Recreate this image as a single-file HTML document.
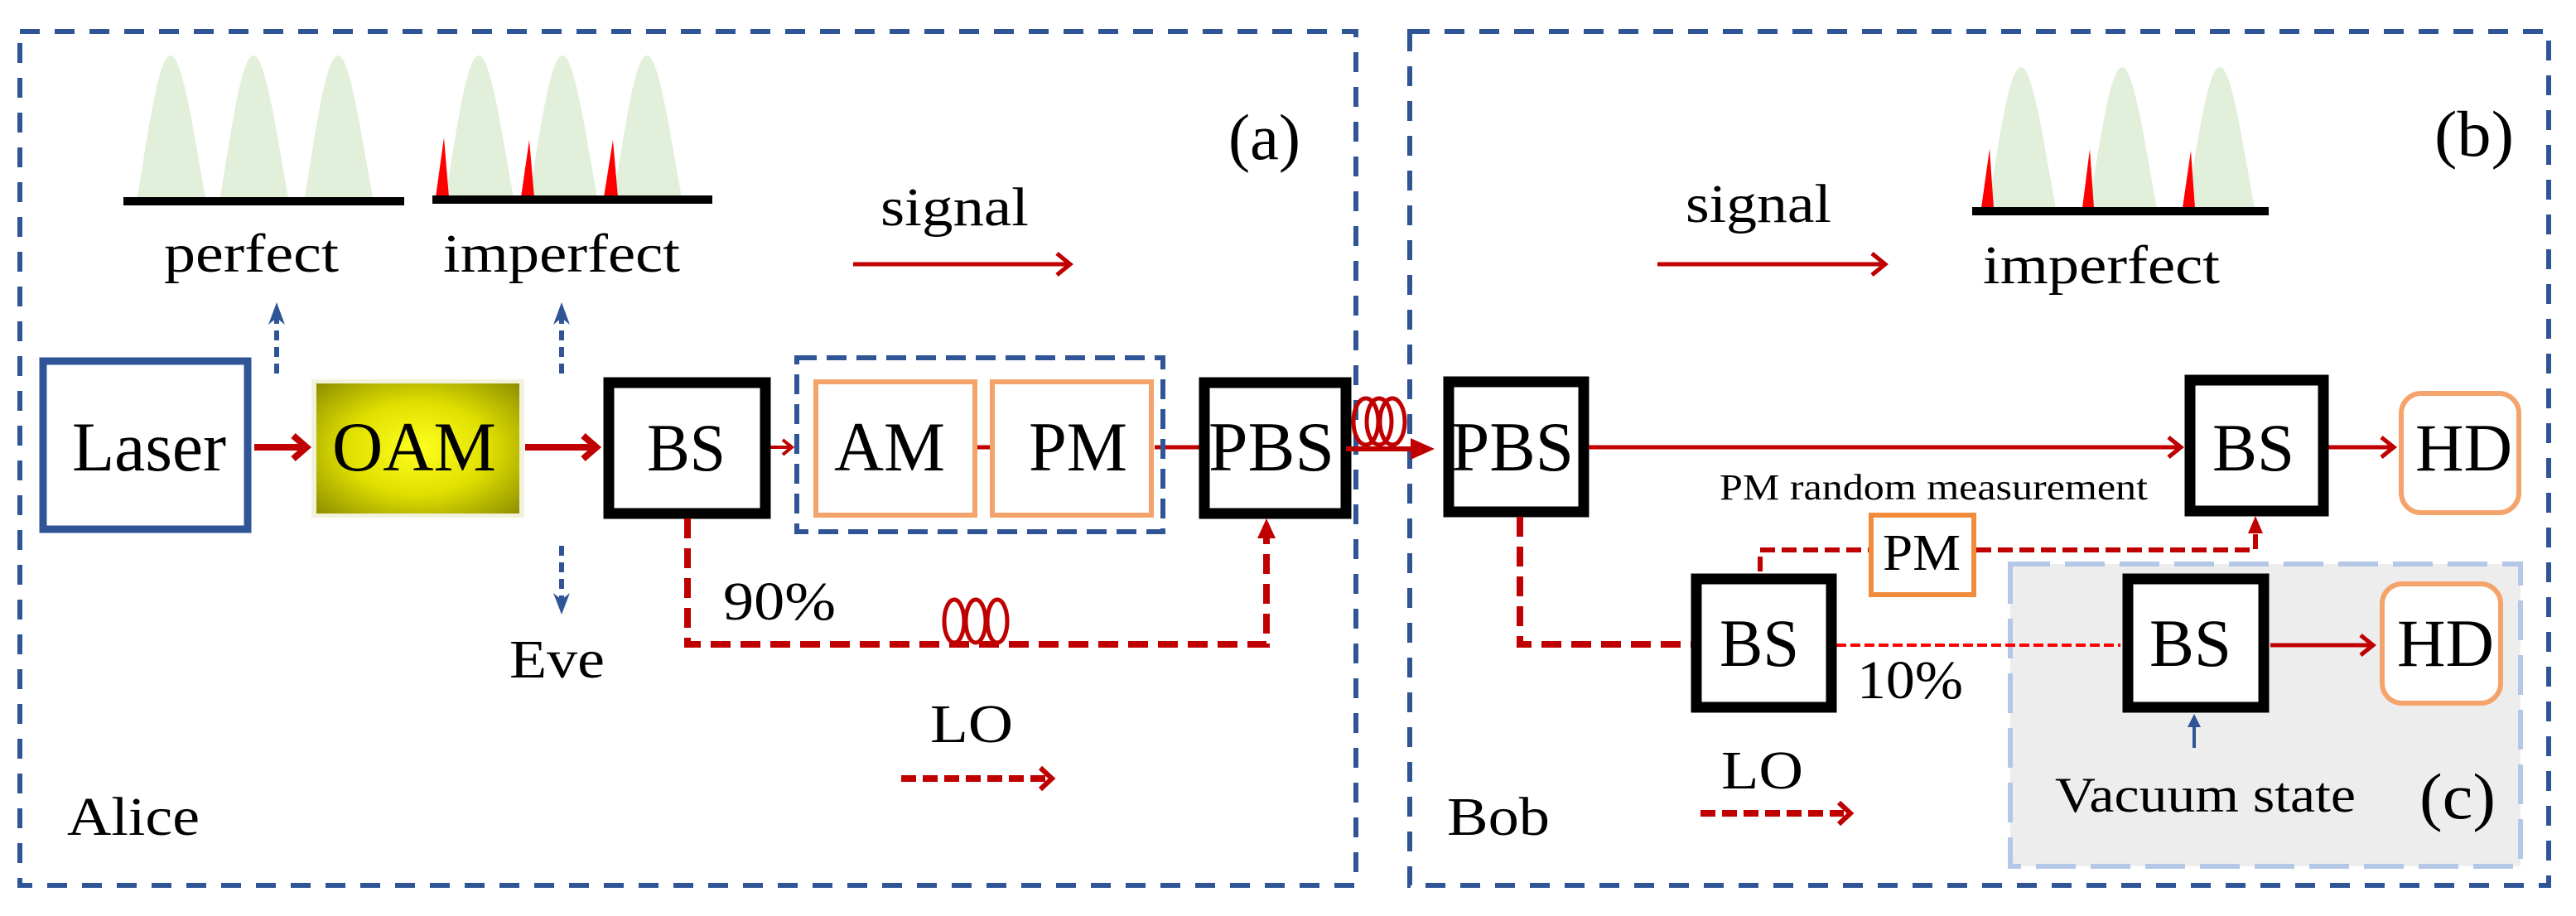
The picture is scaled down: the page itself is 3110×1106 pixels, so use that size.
<!DOCTYPE html>
<html><head><meta charset="utf-8"><style>
html,body{margin:0;padding:0;background:#fff}
svg{display:block}
svg text{font-family:"Liberation Serif","Times New Roman",Times,serif;fill:#000}
</style></head><body>
<svg width="3110" height="1106" viewBox="0 0 3110 1106" xmlns="http://www.w3.org/2000/svg" font-family="Liberation Serif, Times New Roman, serif">
<rect x="24" y="38" width="1613" height="1031" fill="none" stroke="#2f5597" stroke-width="6" stroke-dasharray="24 18"/>
<rect x="1702" y="38" width="1375" height="1031" fill="none" stroke="#2f5597" stroke-width="6" stroke-dasharray="24 18"/>
<rect x="2427" y="681" width="616" height="365" fill="#ededed" stroke="#b4c7e7" stroke-width="6" stroke-dasharray="48 18"/>

<g fill="#e2efda">
<path d="M166,238 C180,150 192,67 206,67 C220,67 232,150 248,238 Z"/>
<path d="M266,238 C280,150 292,67 306,67 C320,67 332,150 348,238 Z"/>
<path d="M368,238 C382,150 394,67 408,67 C422,67 434,150 450,238 Z"/>
<path d="M538,238 C552,150 564,67 578,67 C592,67 604,150 620,238 Z"/>
<path d="M639,238 C653,150 665,67 679,67 C693,67 705,150 721,238 Z"/>
<path d="M741,238 C755,150 767,67 781,67 C795,67 807,150 823,238 Z"/>
<path d="M2400,251 C2414,165 2426,81 2440,81 C2454,81 2466,165 2482,251 Z"/>
<path d="M2522,251 C2536,165 2548,81 2562,81 C2576,81 2588,165 2604,251 Z"/>
<path d="M2640,251 C2654,165 2666,81 2680,81 C2694,81 2706,165 2722,251 Z"/>
</g>
<g fill="#ff0000">
<path d="M526,238 L536,166 L542,238 Z"/>
<path d="M629,238 L639,169 L645,238 Z"/>
<path d="M729,238 L740,169 L746,238 Z"/>
<path d="M2392,251 L2402,180 L2407,251 Z"/>
<path d="M2514,251 L2523,180 L2528,251 Z"/>
<path d="M2635,251 L2645,182 L2650,251 Z"/>
</g>
<rect x="149" y="238" width="339" height="10" fill="#000"/>
<rect x="522" y="236" width="338" height="10" fill="#000"/>
<rect x="2381" y="250" width="358" height="10" fill="#000"/>

<text x="198" y="328" font-size="66" textLength="211" lengthAdjust="spacingAndGlyphs">perfect</text>
<text x="535" y="328" font-size="66" textLength="286" lengthAdjust="spacingAndGlyphs">imperfect</text>
<text x="1063" y="272" font-size="66" textLength="179" lengthAdjust="spacingAndGlyphs">signal</text>
<text x="1483" y="192" font-size="78" textLength="87" lengthAdjust="spacingAndGlyphs">(a)</text>
<text x="2035" y="268" font-size="66" textLength="176" lengthAdjust="spacingAndGlyphs">signal</text>
<text x="2394" y="342" font-size="66" textLength="286" lengthAdjust="spacingAndGlyphs">imperfect</text>
<text x="2939" y="188" font-size="78" textLength="96" lengthAdjust="spacingAndGlyphs">(b)</text>

<g stroke="#c00000" stroke-width="5" fill="none">
<line x1="1030" y1="319" x2="1292" y2="319"/><polyline points="1276,306 1292,319 1276,332"/>
<line x1="2001" y1="319" x2="2276" y2="319"/><polyline points="2260,306 2276,319 2260,332"/>
</g>

<g stroke="#2f5597" stroke-width="6" fill="none" stroke-dasharray="12 8">
<line x1="334" y1="451" x2="334" y2="380"/>
<line x1="678" y1="451" x2="678" y2="380"/>
<line x1="678" y1="659" x2="678" y2="728"/>
</g>
<g fill="#2f5597">
<path d="M324,392 L334,365 L344,392 L334,384 Z"/>
<path d="M668,392 L678,365 L688,392 L678,384 Z"/>
<path d="M668,716 L678,742 L688,716 L678,724 Z"/>
</g>

<rect x="52" y="436" width="247" height="203" fill="#fff" stroke="#2f5597" stroke-width="9"/>
<text x="87" y="568" font-size="85" textLength="186" lengthAdjust="spacingAndGlyphs">Laser</text>

<defs>
<radialGradient id="oam" cx="50%" cy="50%" r="70%">
<stop offset="0" stop-color="#ffff20"/><stop offset="0.5" stop-color="#e0e000"/><stop offset="1" stop-color="#8f8f00"/>
</radialGradient>
</defs>
<rect x="376" y="458" width="257" height="167" fill="#f1f1dc"/>
<rect x="382" y="463" width="245" height="157" fill="url(#oam)"/>
<text x="401" y="568" font-size="85" textLength="198" lengthAdjust="spacingAndGlyphs">OAM</text>

<g stroke="#c00000" fill="none">
<line x1="307" y1="540" x2="368" y2="540" stroke-width="8"/><polyline points="354,526 370,540 354,554" stroke-width="8"/>
<line x1="634" y1="540" x2="718" y2="540" stroke-width="8"/><polyline points="704,526 720,540 704,554" stroke-width="8"/>
<line x1="927" y1="540" x2="955" y2="540" stroke-width="4"/><polyline points="945,531 956,540 945,549" stroke-width="4"/>
<line x1="1177" y1="540" x2="1195" y2="540" stroke-width="5"/>
<line x1="1394" y1="540" x2="1448" y2="540" stroke-width="5"/>
</g>

<rect x="735" y="462" width="189" height="158" fill="#fff" stroke="#000" stroke-width="13"/>
<text x="781" y="568" font-size="82" textLength="95" lengthAdjust="spacingAndGlyphs">BS</text>

<rect x="962" y="432" width="442" height="210" fill="none" stroke="#2f5597" stroke-width="6" stroke-dasharray="24 12"/>
<rect x="985" y="461" width="192" height="161" fill="#fff" stroke="#f4a46a" stroke-width="6"/>
<rect x="1198" y="461" width="192" height="161" fill="#fff" stroke="#f4a46a" stroke-width="6"/>
<text x="1007" y="568" font-size="85" textLength="134" lengthAdjust="spacingAndGlyphs">AM</text>
<text x="1242" y="568" font-size="85" textLength="119" lengthAdjust="spacingAndGlyphs">PM</text>

<rect x="1454" y="462" width="171" height="158" fill="#fff" stroke="#000" stroke-width="13"/>
<text x="1459" y="568" font-size="85" textLength="152" lengthAdjust="spacingAndGlyphs">PBS</text>

<line x1="1625" y1="542" x2="1710" y2="542" stroke="#c00000" stroke-width="6"/>
<path d="M1703,529 L1732,542 L1703,555 Z" fill="#c00000"/>
<g fill="none" stroke="#c00000" stroke-width="5">
<ellipse cx="1649" cy="509" rx="15" ry="28"/>
<ellipse cx="1665" cy="509" rx="15" ry="28"/>
<ellipse cx="1681" cy="509" rx="15" ry="28"/>
</g>

<polyline points="830,626 830,778 1529,778 1529,648" fill="none" stroke="#c00000" stroke-width="8" stroke-dasharray="24 12"/>
<path d="M1518,650 L1529,626 L1540,650 Z" fill="#c00000"/>
<g fill="none" stroke="#c00000" stroke-width="5">
<ellipse cx="1152" cy="750" rx="12" ry="26"/>
<ellipse cx="1178" cy="750" rx="12" ry="26"/>
<ellipse cx="1204" cy="750" rx="12" ry="26"/>
</g>
<text x="873" y="748" font-size="66" textLength="136" lengthAdjust="spacingAndGlyphs">90%</text>
<text x="615" y="818" font-size="66" textLength="115" lengthAdjust="spacingAndGlyphs">Eve</text>
<text x="1123" y="896" font-size="66" textLength="100" lengthAdjust="spacingAndGlyphs">LO</text>
<line x1="1088" y1="940" x2="1262" y2="940" stroke="#c00000" stroke-width="8" stroke-dasharray="18 8"/>
<polyline points="1256,927 1270,940 1256,953" fill="none" stroke="#c00000" stroke-width="6"/>
<text x="81" y="1008" font-size="66" textLength="160" lengthAdjust="spacingAndGlyphs">Alice</text>

<rect x="1749" y="461" width="163" height="157" fill="#fff" stroke="#000" stroke-width="13"/>
<text x="1752" y="568" font-size="85" textLength="148" lengthAdjust="spacingAndGlyphs">PBS</text>

<g stroke="#c00000" fill="none" stroke-width="5">
<line x1="1918" y1="540" x2="2632" y2="540"/><polyline points="2618,528 2633,540 2618,552"/>
<line x1="2811" y1="540" x2="2889" y2="540"/><polyline points="2875,528 2890,540 2875,552"/>
<line x1="2741" y1="779" x2="2864" y2="779"/><polyline points="2850,767 2865,779 2850,791"/>
</g>

<rect x="2644" y="459" width="161" height="158" fill="#fff" stroke="#000" stroke-width="13"/>
<text x="2671" y="568" font-size="82" textLength="99" lengthAdjust="spacingAndGlyphs">BS</text>
<rect x="2899" y="475" width="142" height="144" rx="24" fill="#fff" stroke="#f4a46a" stroke-width="6"/>
<text x="2916" y="568" font-size="82" textLength="117" lengthAdjust="spacingAndGlyphs">HD</text>

<text x="2076" y="603" font-size="44" textLength="517" lengthAdjust="spacingAndGlyphs">PM random measurement</text>

<polyline points="1835,624 1835,778 2042,778" fill="none" stroke="#c00000" stroke-width="8" stroke-dasharray="24 12"/>
<polyline points="2125,690 2125,664 2256,664" fill="none" stroke="#c00000" stroke-width="6" stroke-dasharray="18 8"/>
<polyline points="2386,664 2723,664 2723,642" fill="none" stroke="#c00000" stroke-width="6" stroke-dasharray="18 8"/>
<path d="M2714,644 L2723,623 L2732,644 Z" fill="#c00000"/>
<rect x="2259" y="622" width="124" height="96" fill="#fff" stroke="#f08c3c" stroke-width="6"/>
<text x="2273" y="688" font-size="62" textLength="94" lengthAdjust="spacingAndGlyphs">PM</text>

<line x1="2217" y1="779" x2="2560" y2="779" stroke="#ff0000" stroke-width="4" stroke-dasharray="12 5"/>

<rect x="2048" y="699" width="163" height="155" fill="#fff" stroke="#000" stroke-width="13"/>
<text x="2076" y="804" font-size="82" textLength="96" lengthAdjust="spacingAndGlyphs">BS</text>
<text x="2242" y="843" font-size="66" textLength="128" lengthAdjust="spacingAndGlyphs">10%</text>

<rect x="2569" y="699" width="164" height="155" fill="#fff" stroke="#000" stroke-width="13"/>
<text x="2595" y="804" font-size="82" textLength="99" lengthAdjust="spacingAndGlyphs">BS</text>
<rect x="2876" y="705" width="143" height="144" rx="24" fill="#fff" stroke="#f4a46a" stroke-width="6"/>
<text x="2894" y="804" font-size="82" textLength="117" lengthAdjust="spacingAndGlyphs">HD</text>

<line x1="2649" y1="903" x2="2649" y2="875" stroke="#2f5597" stroke-width="4"/>
<path d="M2641,878 L2649,862 L2657,878 Z" fill="#2f5597"/>
<text x="2481" y="980" font-size="60" textLength="363" lengthAdjust="spacingAndGlyphs">Vacuum state</text>
<text x="2921" y="988" font-size="78" textLength="92" lengthAdjust="spacingAndGlyphs">(c)</text>

<text x="2078" y="952" font-size="66" textLength="99" lengthAdjust="spacingAndGlyphs">LO</text>
<line x1="2053" y1="982" x2="2226" y2="982" stroke="#c00000" stroke-width="8" stroke-dasharray="18 8"/>
<polyline points="2220,969 2234,982 2220,995" fill="none" stroke="#c00000" stroke-width="6"/>
<text x="1747" y="1008" font-size="66" textLength="124" lengthAdjust="spacingAndGlyphs">Bob</text>
</svg>
</body></html>
